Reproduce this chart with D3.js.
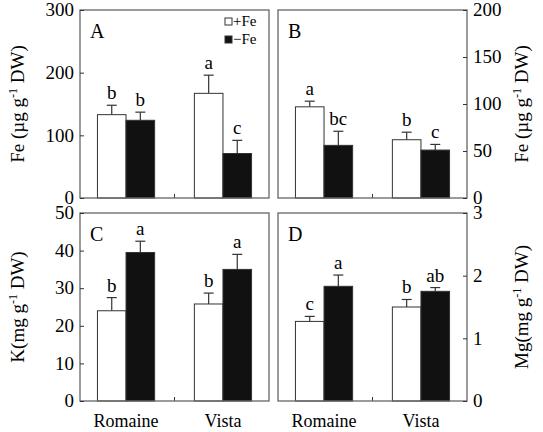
<!DOCTYPE html>
<html><head><meta charset="utf-8">
<script src="https://cdn.jsdelivr.net/npm/d3@7"></script>
<style>body{margin:0;background:#fff}svg text{font-family:"Liberation Serif","Times New Roman","DejaVu Serif",serif !important;fill:#000}</style>
</head><body><div id="chart"></div>
<script>
const cultivars = ["Romaine", "Vista"];
const treatments = ["+Fe", "−Fe"];
// [Romaine +Fe, Romaine −Fe, Vista +Fe, Vista −Fe]
const feShoot = [133, 124, 167, 71], feShootErr = [15, 13, 29, 21], feShootLbl = ["b","b","a","c"];
const feRoot = [97, 56, 62, 51], feRootErr = [6, 15, 8, 6], feRootLbl = ["a","bc","b","c"];
const kVals = [24, 39.5, 25.8, 35], kErr = [3.5, 3, 2.9, 4], kLbl = ["b","a","b","a"];
const mgVals = [1.27, 1.83, 1.5, 1.75], mgErr = [0.08, 0.18, 0.12, 0.06], mgLbl = ["c","a","b","ab"];

const svg = d3.select("#chart").append("svg").attr("width", 543).attr("height", 432);

const panels = [
  {id:"A", x:80, y:10, vals:feShoot, err:feShootErr, lbl:feShootLbl, max:300, ticks:[0,100,200,300], side:"left", legend:true},
  {id:"B", x:278, y:10, vals:feRoot, err:feRootErr, lbl:feRootLbl, max:200, ticks:[0,50,100,150,200], side:"right"},
  {id:"C", x:80, y:213, vals:kVals, err:kErr, lbl:kLbl, max:50, ticks:[0,10,20,30,40,50], side:"left", xlab:true},
  {id:"D", x:278, y:213, vals:mgVals, err:mgErr, lbl:mgLbl, max:3, ticks:[0,1,2,3], side:"right", xlab:true}
];
const W = 189, H = 188;

panels.forEach(p => {
  const g = svg.append("g").attr("transform", `translate(${p.x},${p.y})`);
  const y = d3.scaleLinear().domain([0, p.max]).range([H, 0]);
  const x0 = d3.scaleBand().domain(cultivars).range([0, W]).paddingInner(0.41).paddingOuter(0.18);
  const x1 = d3.scaleBand().domain(treatments).range([0, x0.bandwidth()]);
  const data = [];
  cultivars.forEach((c, i) => treatments.forEach((t, j) => {
    const k = i * 2 + j;
    data.push({c, t, v: p.vals[k], e: p.err[k], l: p.lbl[k]});
  }));
  const bx = d => x0(d.c) + x1(d.t);
  g.selectAll("line.err").data(data).join("line")
    .attr("x1", d => bx(d) + x1.bandwidth()/2).attr("x2", d => bx(d) + x1.bandwidth()/2)
    .attr("y1", d => y(d.v)).attr("y2", d => y(d.v + d.e)).attr("stroke", "#333").attr("stroke-width", 1.2);
  g.selectAll("line.cap").data(data).join("line")
    .attr("x1", d => bx(d) + x1.bandwidth()/2 - 5).attr("x2", d => bx(d) + x1.bandwidth()/2 + 5)
    .attr("y1", d => y(d.v + d.e)).attr("y2", d => y(d.v + d.e)).attr("stroke", "#333").attr("stroke-width", 1.2);
  g.selectAll("rect.bar").data(data).join("rect")
    .attr("x", bx).attr("width", x1.bandwidth())
    .attr("y", d => y(d.v)).attr("height", d => H - y(d.v))
    .attr("fill", d => d.t === "+Fe" ? "#fff" : "#111").attr("stroke", "#333").attr("stroke-width", 1);
  g.selectAll("text.sig").data(data).join("text")
    .attr("x", d => bx(d) + x1.bandwidth()/2).attr("y", d => y(d.v + d.e) - 6)
    .attr("text-anchor", "middle").attr("font-size", 19).text(d => d.l);
  // center tick
  g.append("line").attr("x1", W/2).attr("x2", W/2).attr("y1", H).attr("y2", H - 4).attr("stroke", "#333");
  // frame
  g.append("rect").attr("width", W).attr("height", H).attr("fill", "none").attr("stroke", "#666").attr("stroke-width", 1.3);
  g.append("text").attr("x", 10).attr("y", 28).attr("font-size", 20).text(p.id);
  const ax = p.side === "left" ? d3.axisLeft(y) : d3.axisRight(y);
  const ag = g.append("g").attr("transform", p.side === "left" ? "" : `translate(${W},0)`)
    .call(ax.tickValues(p.ticks).tickFormat(d3.format("d")).tickSize(-4).tickPadding(6));
  ag.attr("font-family", null);
  ag.select(".domain").remove();
  ag.selectAll("line").attr("stroke", "#333");
  ag.selectAll("text").attr("font-size", 19).attr("dy", "0.3em");
  if (p.xlab) {
    g.selectAll("text.xl").data(cultivars).join("text")
      .attr("x", d => x0(d) + x0.bandwidth()/2).attr("y", H + 26)
      .attr("text-anchor", "middle").attr("font-size", 18).text(d => d);
  }
  if (p.legend) {
    treatments.forEach((t, i) => {
      g.append("rect").attr("x", 145).attr("y", 8 + i*18).attr("width", 7).attr("height", 7)
        .attr("fill", i ? "#111" : "#fff").attr("stroke", "#333");
      g.append("text").attr("x", 153).attr("y", 16 + i*18).attr("font-size", 15).text(t);
    });
  }
});

// y-axis titles
function ytitle(x, yc, parts) {
  const t = svg.append("text").attr("transform", `translate(${x},${yc}) rotate(-90)`)
    .attr("text-anchor", "middle").attr("font-size", 19);
  parts.forEach(([s, sup]) => t.append("tspan").attr("baseline-shift", sup ? "super" : null)
    .attr("font-size", sup ? 12 : null).text(s));
}
ytitle(24, 104, [["Fe (µg g"], ["-1", 1], [" DW)"]]);
ytitle(528, 104, [["Fe (µg g"], ["-1", 1], [" DW)"]]);
ytitle(24, 307, [["K(mg g"], ["-1", 1], [" DW)"]]);
ytitle(528, 307, [["Mg(mg g"], ["-1", 1], [" DW)"]]);
</script></body></html>
